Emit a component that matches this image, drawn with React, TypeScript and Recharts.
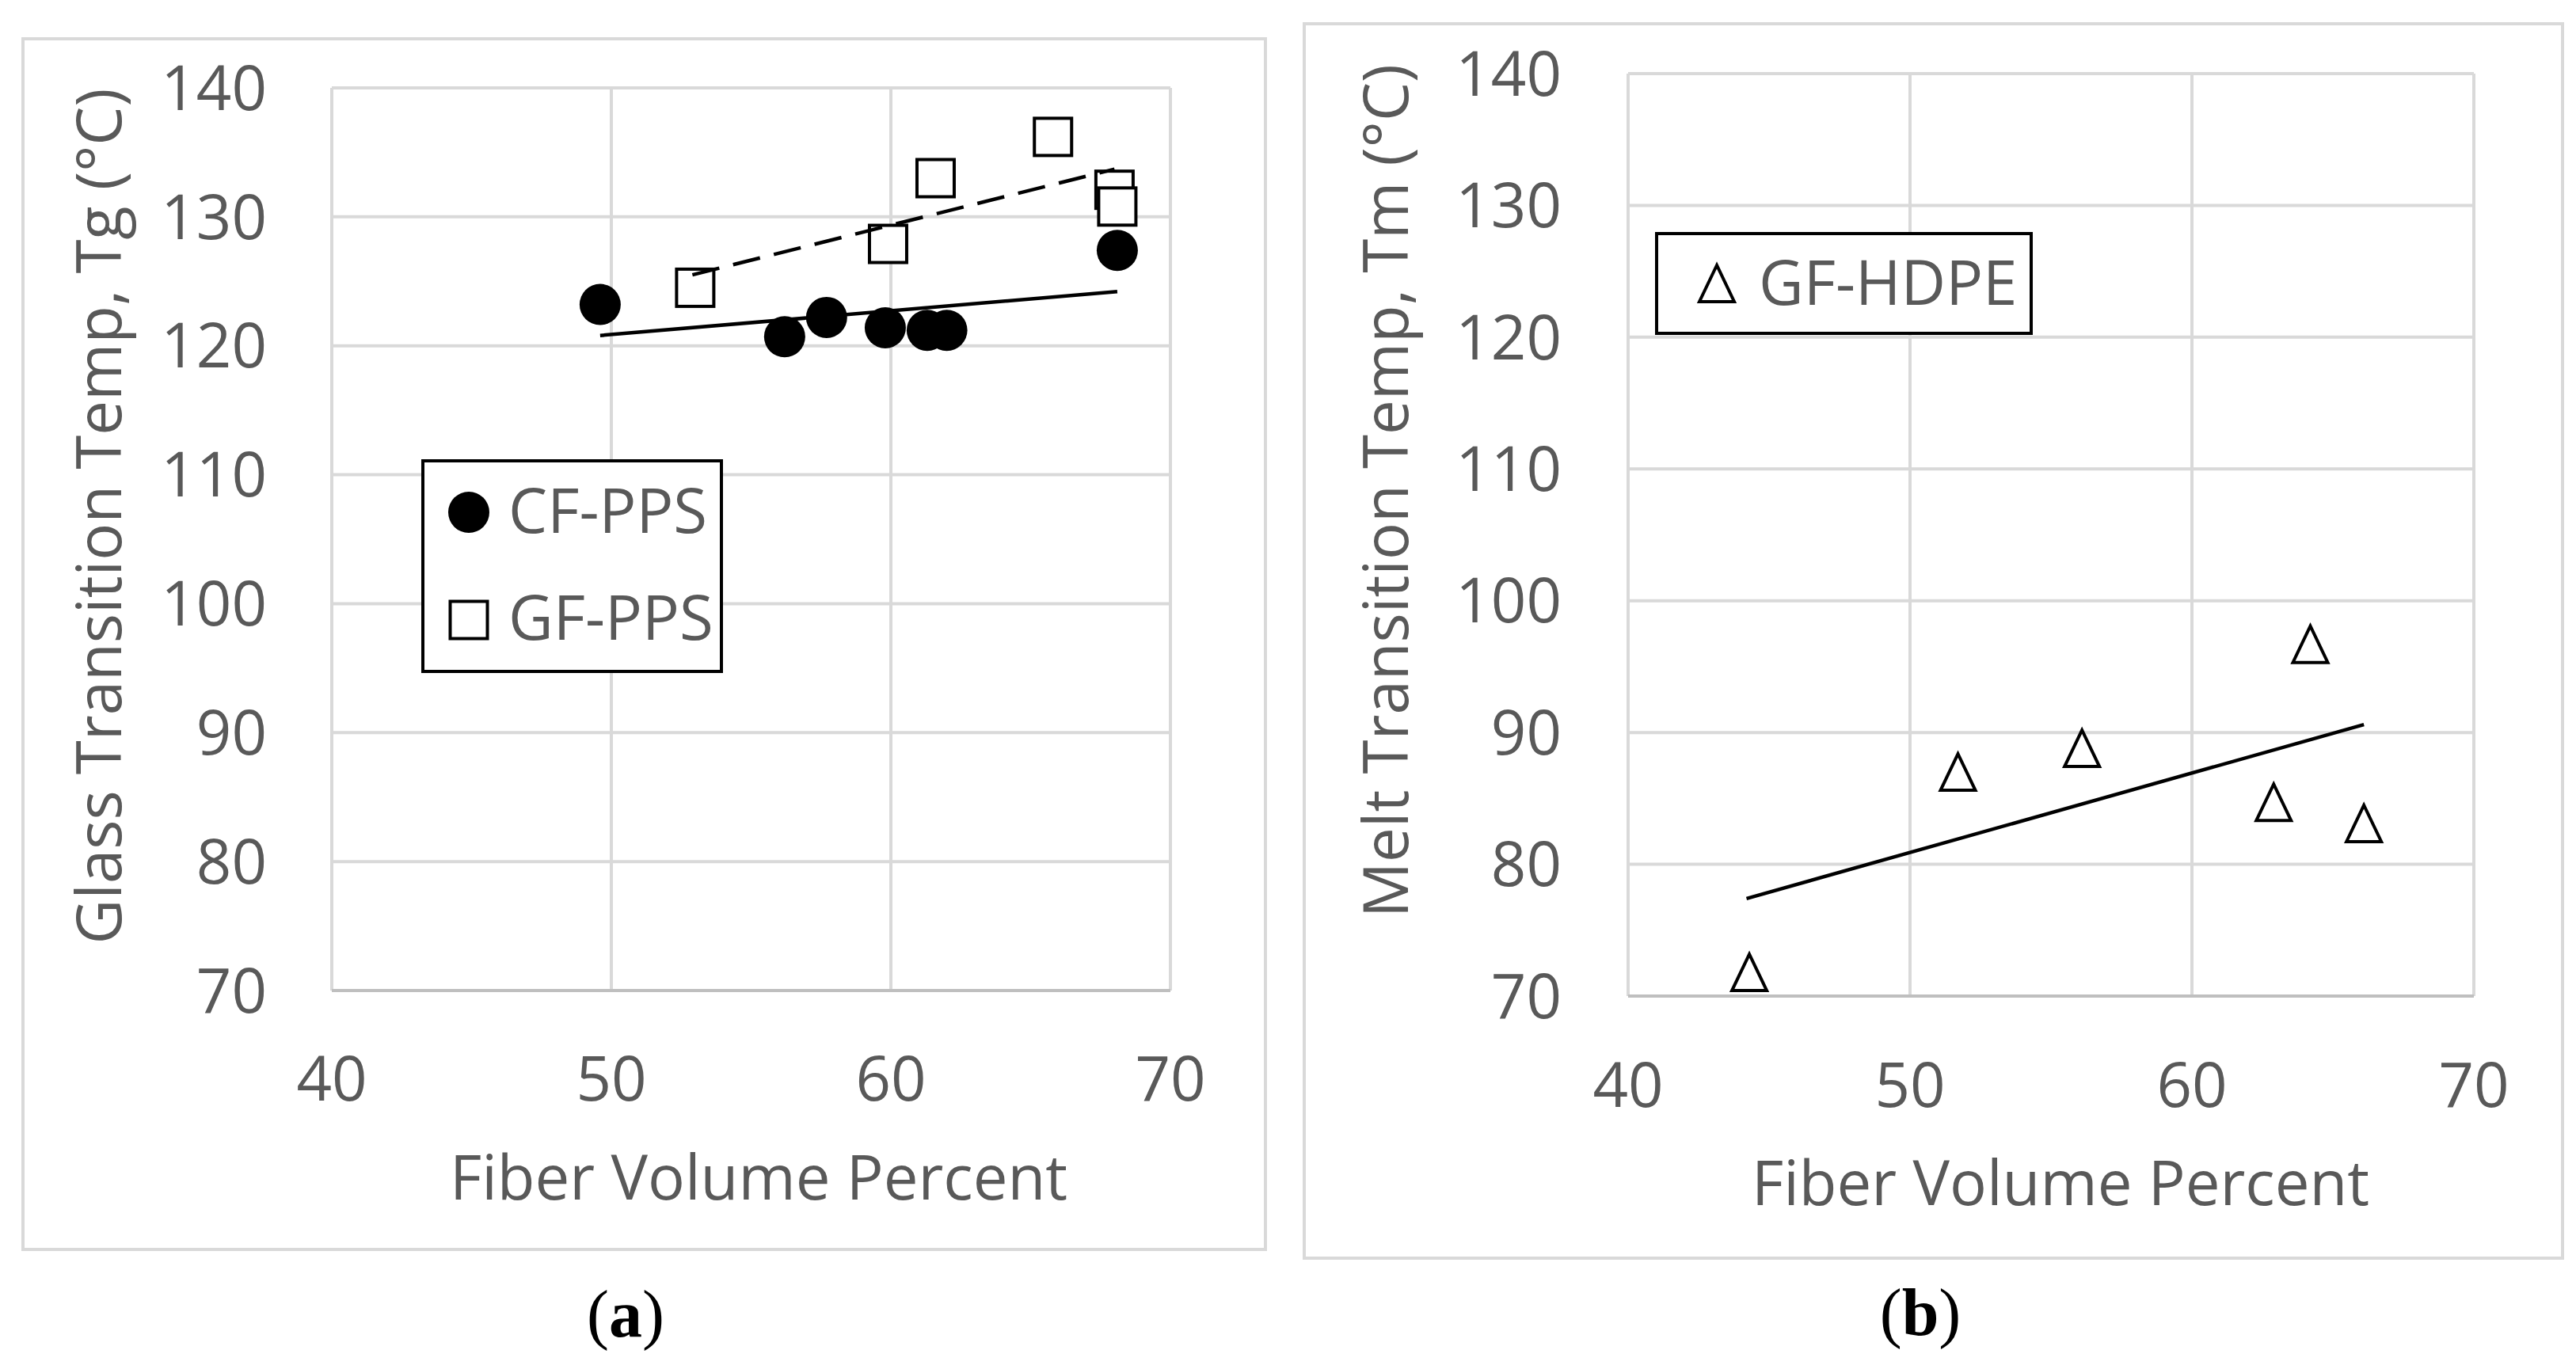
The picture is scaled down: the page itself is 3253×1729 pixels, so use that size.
import React from 'react';
import { ScatterChart, Scatter, XAxis, YAxis, CartesianGrid, Legend } from 'recharts';

const FONT = "'Open Sans', 'Noto Sans', sans-serif";
const TEXT = '#595959';
const GRID = '#d9d9d9';

// axis ticks (both panels share them)
const xTicks = [40, 50, 60, 70];
const yTicks = [70, 80, 90, 100, 110, 120, 130, 140];

// panel (a)
const cfPps = [
  { x: 49.6, y: 123.2 },
  { x: 56.2, y: 120.7 },
  { x: 57.7, y: 122.2 },
  { x: 59.8, y: 121.4 },
  { x: 61.3, y: 121.2 },
  { x: 62.0, y: 121.2 },
  { x: 68.1, y: 127.4 },
];
const gfPps = [
  { x: 53.0, y: 124.5 },
  { x: 59.9, y: 127.9 },
  { x: 61.6, y: 133.0 },
  { x: 65.8, y: 136.2 },
  { x: 68.0, y: 132.1 },
  { x: 68.1, y: 130.8 },
];
const cfTrend = [
  { x: 49.6, y: 120.8 },
  { x: 68.1, y: 124.2 },
];
const gfTrend = [
  { x: 52.9, y: 125.5 },
  { x: 68.0, y: 133.7 },
];

// panel (b)
const gfHdpe = [
  { x: 44.3, y: 71.8 },
  { x: 51.7, y: 87.0 },
  { x: 56.1, y: 88.8 },
  { x: 62.9, y: 84.7 },
  { x: 64.2, y: 96.7 },
  { x: 66.1, y: 83.1 },
];
const hdpeTrend = [
  { x: 44.2, y: 77.4 },
  { x: 66.1, y: 90.6 },
];

const Dot = (p: any) => <circle cx={p.cx} cy={p.cy} r={26} fill="#000" />;
const Square = (p: any) => (
  <rect x={p.cx - 23.5} y={p.cy - 23.5} width={47} height={47} fill="#fff" stroke="#000" strokeWidth={4} />
);
const Tri = (p: any) => (
  <polygon
    points={`${p.cx},${p.cy - 23} ${p.cx - 22},${p.cy + 23} ${p.cx + 22},${p.cy + 23}`}
    fill="#fff"
    stroke="#000"
    strokeWidth={4}
  />
);
const NoMark = () => <g />;

const markerFor: Record<string, (p: any) => React.ReactElement> = {
  'CF-PPS': Dot,
  'GF-PPS': Square,
  'GF-HDPE': Tri,
};

// only the marker series go in the legend, not the trend lines
const legendItems = (payload: any) => (payload || []).filter((e: any) => markerFor[e.value]);

const legendA = ({ payload }: any) => (
  <svg width={381} height={270} style={{ display: 'block' }}>
    <rect x={2} y={2} width={377} height={266} fill="#fff" stroke="#000" strokeWidth={4} />
    {legendItems(payload).map((e: any, i: number) => {
      const M = markerFor[e.value];
      return (
        <g key={e.value}>
          <M cx={60} cy={67 + i * 136} />
          <text x={110} y={93 + i * 135} fontSize={78} fontFamily={FONT} fill={TEXT}>
            {e.value}
          </text>
        </g>
      );
    })}
  </svg>
);

const legendB = ({ payload }: any) => (
  <svg width={477} height={130} style={{ display: 'block' }}>
    <rect x={2} y={2} width={473} height={126} fill="#fff" stroke="#000" strokeWidth={4} />
    {legendItems(payload).map((e: any) => {
      const M = markerFor[e.value];
      return (
        <g key={e.value}>
          <M cx={78} cy={65} />
          <text x={131} y={92} fontSize={78} fontFamily={FONT} fill={TEXT}>
            {e.value}
          </text>
        </g>
      );
    })}
  </svg>
);

const tickStyle = { fill: TEXT, fontSize: 78, fontFamily: FONT };
const abs: React.CSSProperties = { position: 'absolute', left: 0, top: 0 };

export default function App() {
  const W = 3253;
  const H = 1729;
  return (
    <div style={{ position: 'absolute', left: 0, top: 0, width: W, height: H, background: '#fff' }}>
      {/* panel frames */}
      <div style={{ position: 'absolute', left: 27, top: 47, width: 1573, height: 1533, border: `4px solid ${GRID}`, boxSizing: 'border-box' }} />
      <div style={{ position: 'absolute', left: 1645, top: 28, width: 1593, height: 1563, border: `4px solid ${GRID}`, boxSizing: 'border-box' }} />

      <div style={abs}>
        <ScatterChart width={W} height={H} margin={{ top: 111, right: W - 1478, bottom: H - 1251 - 100, left: 419 - 100 }}>
          <CartesianGrid stroke={GRID} strokeWidth={4} />
          <XAxis
            type="number"
            dataKey="x"
            domain={[40, 70]}
            ticks={xTicks}
            interval={0}
            height={100}
            tickSize={0}
            tickMargin={84}
            tick={tickStyle}
            axisLine={{ stroke: '#bfbfbf', strokeWidth: 4 }}
            tickLine={false}
          />
          <YAxis
            type="number"
            dataKey="y"
            domain={[70, 140]}
            ticks={yTicks}
            interval={0}
            width={100}
            tickSize={0}
            tickMargin={82}
            tick={tickStyle}
            axisLine={false}
            tickLine={false}
          />
          <Scatter name="CF-PPS" data={cfPps} shape={Dot} fill="#000" isAnimationActive={false} />
          <Scatter name="GF-PPS" data={gfPps} shape={Square} fill="#fff" isAnimationActive={false} />
          <Scatter
            name="cf-trend"
            data={cfTrend}
            shape={NoMark}
            line={{ stroke: '#000', strokeWidth: 4.5 }}
            legendType="none"
            isAnimationActive={false}
          />
          <Scatter
            name="gf-trend"
            data={gfTrend}
            shape={NoMark}
            line={{ stroke: '#000', strokeWidth: 4.5, strokeDasharray: '35 18' }}
            legendType="none"
            isAnimationActive={false}
          />
          <Legend
            layout="horizontal"
            verticalAlign="middle"
            align="center"
            content={legendA}
            wrapperStyle={{ position: 'absolute', left: 532, top: 580, width: 381, height: 270 }}
          />
        </ScatterChart>
      </div>

      <div style={abs}>
        <ScatterChart width={W} height={H} margin={{ top: 93, right: W - 3124, bottom: H - 1258 - 100, left: 2056 - 100 }}>
          <CartesianGrid stroke={GRID} strokeWidth={4} />
          <XAxis
            type="number"
            dataKey="x"
            domain={[40, 70]}
            ticks={xTicks}
            interval={0}
            height={100}
            tickSize={0}
            tickMargin={85}
            tick={tickStyle}
            axisLine={{ stroke: '#bfbfbf', strokeWidth: 4 }}
            tickLine={false}
          />
          <YAxis
            type="number"
            dataKey="y"
            domain={[70, 140]}
            ticks={yTicks}
            interval={0}
            width={100}
            tickSize={0}
            tickMargin={84}
            tick={tickStyle}
            axisLine={false}
            tickLine={false}
          />
          <Scatter name="GF-HDPE" data={gfHdpe} shape={Tri} fill="#fff" isAnimationActive={false} />
          <Scatter
            name="hdpe-trend"
            data={hdpeTrend}
            shape={NoMark}
            line={{ stroke: '#000', strokeWidth: 4.5 }}
            legendType="none"
            isAnimationActive={false}
          />
          <Legend
            layout="horizontal"
            verticalAlign="middle"
            align="center"
            content={legendB}
            wrapperStyle={{ position: 'absolute', left: 2090, top: 293, width: 477, height: 130 }}
          />
        </ScatterChart>
      </div>

      {/* titles and captions */}
      <svg width={W} height={H} style={{ ...abs, pointerEvents: 'none' }}>
        <g fontFamily={FONT} fontSize={78} fill={TEXT} textAnchor="middle">
          <text x={153} y={652} transform="rotate(-90 153 652)">Glass Transition Temp, Tg (°C)</text>
          <text x={1778} y={620} transform="rotate(-90 1778 620)">Melt Transition Temp, Tm (°C)</text>
          <text x={958} y={1515}>Fiber Volume Percent</text>
          <text x={2602} y={1522}>Fiber Volume Percent</text>
        </g>
        <g fontFamily="'Liberation Serif', 'Times New Roman', serif" fontSize={84} fill="#000" textAnchor="middle">
          <text x={790} y={1688}>
            (<tspan fontWeight="bold">a</tspan>)
          </text>
          <text x={2425} y={1686}>
            (<tspan fontWeight="bold">b</tspan>)
          </text>
        </g>
      </svg>
    </div>
  );
}
